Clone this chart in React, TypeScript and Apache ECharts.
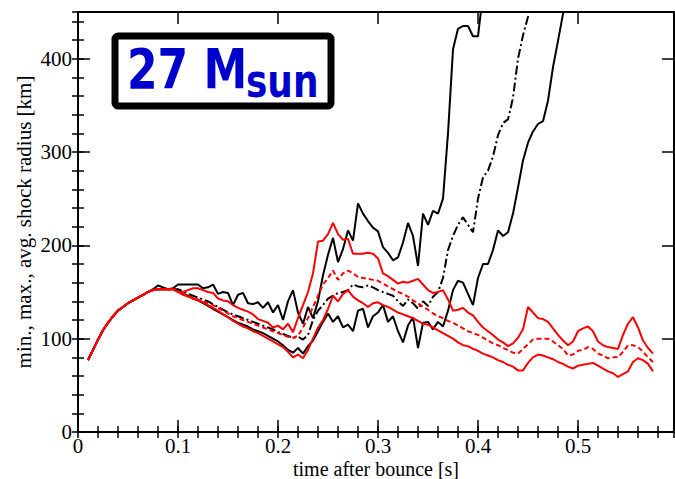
import React, { useEffect, useRef } from "react";
import * as echarts from "echarts";

// time grid [s]: 0.010 ... 0.575, step 0.005
const TIME: number[] = Array.from({ length: 114 }, (_, i) => +(0.01 + 0.005 * i).toFixed(3));

const X_TICKS = [0, 0.1, 0.2, 0.3, 0.4, 0.5];
const Y_TICKS = [0, 100, 200, 300, 400];

// shock radius [km]
const BLACK_MAX = [
  77, 88, 99, 109, 117, 124, 130, 134, 138, 141, 144, 147, 150,
  153, 157, 155, 153, 154, 158, 158, 158, 158, 158,
  154, 155, 158, 148, 150, 149, 136, 147, 149, 138,
  137, 139, 133, 139, 128, 136, 120, 140, 152, 128,
  116, 134, 122, 140, 168, 190, 208, 182, 196, 216,
  205, 245, 234, 226, 219, 215, 198, 192, 184, 187,
  203, 224, 210, 178, 234, 222, 237, 234, 250, 320,
  410, 432, 435, 435, 424, 424, 470,
];
const BLACK_AVG = [
  77, 88, 99, 109, 117, 124, 130, 134, 138, 141, 144, 147, 150, 152, 153, 153, 153,
  153, 153, 151, 148, 146, 144, 142, 140, 137, 134,
  131, 128, 126, 124, 122, 120, 118, 116, 114, 112,
  110, 107, 105, 103, 101, 102, 99, 104, 120, 130,
  136, 143, 146, 149, 150, 152, 158, 156, 155, 157,
  155, 152, 150, 148, 146, 140, 135, 142, 138, 132,
  140, 135, 145, 150, 165, 195, 210, 222, 230, 222,
  214, 250, 273, 280, 295, 318, 331, 335, 358, 400,
  425, 445, 470,
];
const BLACK_MIN = [
  77, 88, 99, 109, 117, 124, 130, 134, 138, 141, 144, 147, 150, 152, 153, 153, 153,
  153, 151, 148, 146, 143, 141, 138, 135, 132, 129,
  126, 123, 120, 117, 115, 113, 110, 108, 106, 103,
  100, 97, 93, 88, 85, 90, 84, 92, 98, 108,
  118, 127, 118, 124, 112, 115, 108, 130, 132, 112,
  124, 128, 136, 118, 124, 108, 96, 114, 123, 90,
  117, 118, 110, 118, 113, 130, 152, 162, 160, 148,
  136, 165, 180, 180, 195, 216, 210, 214, 234, 262,
  291, 310, 322, 330, 333, 355, 391, 419, 448, 470,
];
const RED_MAX = [
  77, 88, 99, 109, 117, 124, 130, 134, 138, 141, 144, 147, 150, 152, 153, 153, 153,
  153, 150, 150, 152, 154, 154, 152, 150, 149, 143,
  141, 140, 136, 133, 131, 129, 126, 121, 119, 117,
  112, 114, 110, 116, 107, 122, 136, 150, 170, 204,
  205, 212, 224, 212, 206, 207, 191, 191, 191, 192,
  191, 186, 170, 167, 163, 159, 161, 160, 162, 164,
  158, 152, 149, 150, 152, 142, 130, 131, 133, 128,
  125, 118, 112, 108, 104, 99, 96, 92, 95, 101,
  110, 134, 128, 122, 121, 118, 111, 104, 98, 93,
  97, 108, 111, 113, 108, 97, 93, 91, 90, 89,
  104, 116, 123, 112, 98, 90, 84,
];
const RED_AVG = [
  77, 88, 99, 109, 117, 124, 130, 134, 138, 141, 144, 147, 150, 152, 153, 153, 153,
  153, 150, 148, 146, 144, 142, 140, 138, 136, 133,
  130, 127, 124, 122, 120, 118, 116, 114, 112, 110,
  108, 106, 104, 102, 101, 103, 112, 122, 134, 146,
  158, 165, 173, 163, 170, 173, 170, 166, 165, 164,
  163, 162, 159, 156, 153, 150, 148, 145, 141, 138,
  134, 131, 127, 124, 122, 119, 117, 114, 111, 108,
  106, 104, 101, 98, 95, 93, 90, 88, 85, 84,
  89, 94, 99, 100, 100, 100, 97, 93, 89, 82,
  83, 87, 88, 91, 89, 84, 82, 79, 80, 80,
  86, 93, 93, 91, 86, 80, 75,
];
const RED_MIN = [
  77, 88, 99, 109, 117, 124, 130, 134, 138, 141, 144, 147, 150, 152, 153, 153, 153,
  153, 150, 147, 145, 143, 141, 139, 136, 133, 130,
  126, 123, 119, 116, 113, 111, 108, 106, 103, 100,
  97, 94, 91, 86, 80, 83, 79, 88, 100, 112,
  120, 132, 146, 140, 148, 152, 145, 141, 138, 134,
  138, 139, 136, 134, 131, 128, 126, 124, 122, 119,
  116, 115, 112, 109, 106, 103, 100, 96, 93, 92,
  89, 87, 84, 82, 80, 77, 75, 72, 70, 66,
  66, 74, 80, 83, 82, 80, 78, 75, 73, 70,
  68, 71, 72, 73, 74, 71, 68, 65, 63, 59,
  62, 65, 75, 79, 77, 73, 65,
];

const X_MAX = 0.596;
const Y_MAX = 450;
const SERIF = "'Liberation Serif', 'Times New Roman', serif";

function pairs(values: number[]) {
  return values.map((v, i) => [TIME[i], v]);
}

export default function App() {
  const ref = useRef<HTMLDivElement>(null);
  useEffect(() => {
    document.body.style.margin = "0";
    if (!ref.current) return;
    const chart = echarts.init(ref.current, null, { renderer: "svg" });
    const frame = { show: true, onZero: false, lineStyle: { color: "#000", width: 2 } };
    const noLine = { show: false };
    const xBase = { type: "value", min: 0, max: X_MAX, splitLine: { show: false } };
    const yBase = { type: "value", min: 0, max: Y_MAX, splitLine: { show: false } };
    const major = { show: true, inside: true, length: 12, lineStyle: { color: "#000", width: 1.5 } };
    const minor = { show: true, inside: true, length: 6, lineStyle: { color: "#000", width: 1.5 } };
    const line = (name: string, values: number[], color: string, type: any) => ({
      name,
      type: "line",
      data: pairs(values),
      showSymbol: false,
      symbol: "none",
      xAxisIndex: 0,
      yAxisIndex: 0,
      lineStyle: { color, width: 2, type },
      z: color === "#ff0000" ? 3 : 2,
    });
    chart.setOption({
      animation: false,
      backgroundColor: "#fff",
      grid: { left: 78, right: 1, top: 12, bottom: 47, containLabel: false, outerBoundsMode: "none" },
      xAxis: [
        {
          ...xBase,
          position: "bottom",
          interval: 0.1,
          axisLine: frame,
          axisTick: major,
          axisLabel: {
            fontSize: 21,
            lineHeight: 19,
            fontFamily: SERIF,
            color: "#000",
            margin: 4,
            showMaxLabel: false,
            formatter: (v: number) => {
              const t = X_TICKS.find((x) => Math.abs(x - v) < 1e-6);
              return t === undefined ? "" : t === 0 ? "0" : t.toFixed(1);
            },
          },
          name: "time after bounce [s]",
          nameLocation: "middle",
          nameGap: 27,
          nameMoveOverlap: false,
          nameTextStyle: { fontSize: 20, lineHeight: 19, fontFamily: SERIF, color: "#000" },
        },
        { ...xBase, position: "bottom", interval: 0.02, axisLine: noLine, axisTick: minor, axisLabel: { show: false } },
        { ...xBase, position: "top", interval: 0.1, axisLine: frame, axisTick: major, axisLabel: { show: false } },
        { ...xBase, position: "top", interval: 0.02, axisLine: noLine, axisTick: minor, axisLabel: { show: false } },
      ],
      yAxis: [
        {
          ...yBase,
          position: "left",
          interval: 100,
          axisLine: frame,
          axisTick: major,
          axisLabel: {
            fontSize: 21,
            fontFamily: SERIF,
            color: "#000",
            margin: 6,
            showMaxLabel: false,
            formatter: (v: number) => (Y_TICKS.includes(v) ? String(v) : ""),
          },
          name: "min., max., avg. shock radius [km]",
          nameLocation: "middle",
          nameGap: 44,
          nameMoveOverlap: false,
          nameTextStyle: { fontSize: 21, fontFamily: SERIF, color: "#000" },
        },
        { ...yBase, position: "left", interval: 20, axisLine: noLine, axisTick: minor, axisLabel: { show: false } },
        { ...yBase, position: "right", interval: 100, axisLine: frame, axisTick: major, axisLabel: { show: false } },
        { ...yBase, position: "right", interval: 20, axisLine: noLine, axisTick: minor, axisLabel: { show: false } },
      ],
      series: [
        line("black max", BLACK_MAX, "#000", "solid"),
        line("black avg", BLACK_AVG, "#000", [9, 3, 2, 3]),
        line("black min", BLACK_MIN, "#000", "solid"),
        line("red max", RED_MAX, "#ff0000", "solid"),
        line("red avg", RED_AVG, "#ff0000", [5, 3]),
        line("red min", RED_MIN, "#ff0000", "solid"),
      ],
      graphic: [
        {
          type: "rect",
          z: 100,
          shape: { x: 115, y: 36, width: 216, height: 70, r: 3 },
          style: { fill: "#fff", stroke: "#000", lineWidth: 7 },
        },
        {
          type: "text",
          z: 101,
          x: 127,
          y: 69,
          scaleX: 0.8,
          style: {
            text: "27 M",
            x: 0,
            y: 0,
            align: "left",
            verticalAlign: "middle",
            fontFamily: "'DejaVu Sans', sans-serif",
            fontWeight: "bold",
            fontSize: 55,
            fill: "#0000cc",
          },
        },
        {
          type: "text",
          z: 101,
          x: 246,
          y: 81,
          scaleX: 0.78,
          style: {
            text: "sun",
            x: 0,
            y: 0,
            align: "left",
            verticalAlign: "middle",
            fontFamily: "'DejaVu Sans', sans-serif",
            fontWeight: "bold",
            fontSize: 46,
            fill: "#0000cc",
          },
        },
      ],
    });
    return () => chart.dispose();
  }, []);
  return <div ref={ref} style={{ width: 675, height: 479 }} />;
}
